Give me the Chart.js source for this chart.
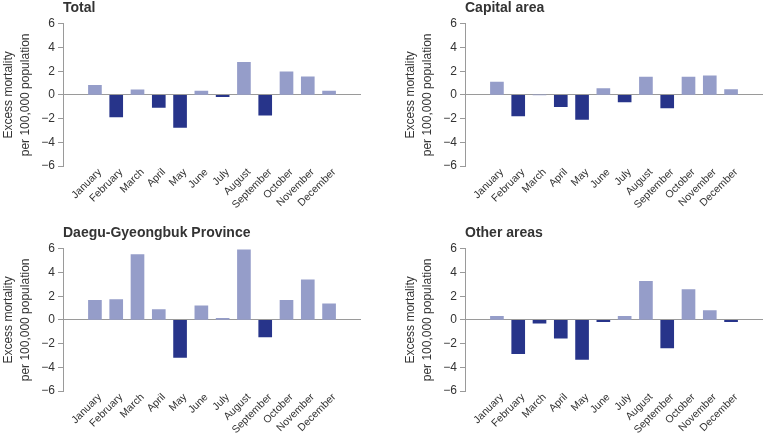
<!DOCTYPE html>
<html lang="en">
<head>
  <meta charset="UTF-8">
  <title>Excess mortality by month</title>
  <style>
    body {
      margin: 0;
      background: #ffffff;
      overflow: hidden;
      font-family: "Liberation Sans", Arial, sans-serif;
    }
    .panel {
      position: absolute;
      width: 362px;
      height: 216px;
    }
  </style>
</head>
<body>
  <div class="panel" style="left:0;top:0"><canvas id="c1"></canvas></div>
  <div class="panel" style="left:402px;top:0"><canvas id="c2"></canvas></div>
  <div class="panel" style="left:0;top:225px"><canvas id="c3"></canvas></div>
  <div class="panel" style="left:402px;top:225px"><canvas id="c4"></canvas></div>

  <script src="https://cdn.jsdelivr.net/npm/chart.js"></script>
  <script>
    const months = ['January', 'February', 'March', 'April', 'May', 'June',
      'July', 'August', 'September', 'October', 'November', 'December'];
    const yTicks = [-6, -4, -2, 0, 2, 4, 6];

    const totalValues = [0.8, -1.85, 0.42, -1.05, -2.75, 0.32, -0.15, 2.75, -1.72, 1.95, 1.52, 0.32];
    const capitalValues = [1.08, -1.78, 0, -0.99, -2.07, 0.54, -0.59, 1.5, -1.1, 1.5, 1.61, 0.45];
    const daeguValues = [1.65, 1.71, 5.52, 0.87, -3.17, 1.18, 0.14, 5.92, -1.43, 1.65, 3.39, 1.35];
    const otherValues = [0.31, -2.86, -0.28, -1.54, -3.34, -0.14, 0.31, 3.25, -2.36, 2.55, 0.78, -0.14];

    const posColor = '#959dc9';
    const negColor = '#27348a';
    const axisColor = '#9a9a9a';
    const textColor = '#333333';
    const font = "'Liberation Sans', Arial, sans-serif";

    function makeChart(id, title, values) {
      const ctx = document.getElementById(id).getContext('2d');
      return new Chart(ctx, {
        type: 'bar',
        data: {
          datasets: [{
            data: values.map((v, i) => ({ x: i, y: v })),
            backgroundColor: values.map(v => v >= 0 ? posColor : negColor),
            borderWidth: 0,
            barThickness: 13
          }]
        },
        options: {
          responsive: true,
          maintainAspectRatio: false,
          animation: false,
          layout: { padding: { left: 0, right: 1, top: 0, bottom: 0 } },
          plugins: {
            legend: { display: false },
            tooltip: { enabled: false },
            title: {
              display: true,
              text: title,
              align: 'start',
              fullSize: false,
              color: textColor,
              font: { family: font, size: 14, weight: 'bold' },
              padding: { top: 0, bottom: 7 }
            }
          },
          scales: {
            x: {
              type: 'linear',
              min: -1,
              max: 12,
              afterFit: s => { s.height = 50; },
              grid: { display: false, drawTicks: false },
              border: { display: false },
              ticks: {
                stepSize: 1,
                autoSkip: false,
                maxRotation: 45,
                minRotation: 45,
                padding: 0,
                labelOffset: 5,
                color: textColor,
                font: { family: font, size: 10.5 },
                callback: v => months[v] || ''
              }
            },
            y: {
              min: -6,
              max: 6,
              afterFit: s => { s.width = 63; },
              afterBuildTicks: s => { s.ticks = yTicks.map(v => ({ value: v })); },
              border: { display: true, color: axisColor, width: 1 },
              grid: {
                color: c => (c.tick && c.tick.value === 0) ? axisColor : 'rgba(0,0,0,0)',
                tickColor: axisColor,
                tickLength: 5,
                lineWidth: 1
              },
              ticks: {
                padding: 3,
                color: textColor,
                font: { family: font, size: 12 },
                callback: v => v < 0 ? '\u2212' + Math.abs(v) : String(v)
              },
              title: {
                display: true,
                text: ['Excess mortality', 'per 100,000 population'],
                color: textColor,
                font: { family: font, size: 12, lineHeight: 1.4 },
                padding: { top: 0, bottom: 0 }
              }
            }
          }
        }
      });
    }

    makeChart('c1', 'Total', totalValues);
    makeChart('c2', 'Capital area', capitalValues);
    makeChart('c3', 'Daegu-Gyeongbuk Province', daeguValues);
    makeChart('c4', 'Other areas', otherValues);
  </script>
</body>
</html>
